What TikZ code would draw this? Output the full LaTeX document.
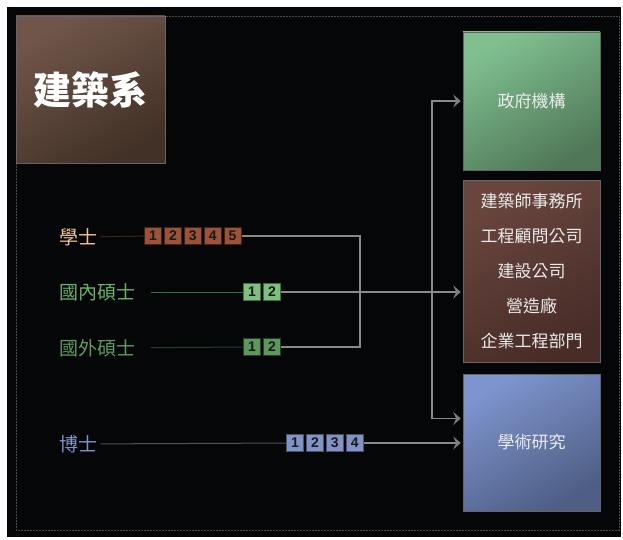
\documentclass[tikz,border=0pt]{standalone}
\usepackage{fontspec}
\newfontfamily\cjk{Noto Sans CJK TC}
\newfontfamily\digitfont{Liberation Sans}
\usetikzlibrary{positioning,arrows.meta}
\definecolor{bgblack}{HTML}{050608}
\definecolor{frame}{HTML}{4A4A4A}
\definecolor{link}{HTML}{8A8A8A}
\definecolor{bachtext}{HTML}{F5C392}
\definecolor{bachbox}{HTML}{9C5236}
\definecolor{bachline}{HTML}{3E2219}
\definecolor{mdtext}{HTML}{6BB06B}
\definecolor{mdbox}{HTML}{7DC07D}
\definecolor{mdline}{HTML}{3D6E3D}
\definecolor{mftext}{HTML}{5E9A5E}
\definecolor{mfbox}{HTML}{5C985C}
\definecolor{mfline}{HTML}{25402A}
\definecolor{phdtext}{HTML}{7E95C8}
\definecolor{phdbox}{HTML}{7F93C9}
\definecolor{phdline}{HTML}{4E525C}
\begin{document}
\begin{tikzpicture}[x=1pt, y=-1pt, node distance=1.8pt, thick,
  degree/.style = {font=\cjk\fontsize{19}{19}\selectfont},
  digit/.style = {draw, minimum width=17.5pt, minimum height=17pt, inner sep=0pt, line width=0.6pt, text=black!90, font=\digitfont\bfseries\fontsize{14}{14}\selectfont},
  target/.style = {draw=black!60, line width=0.6pt, minimum width=137pt, inner sep=0pt, text=white!92!black, font=\cjk\fontsize{17}{17}\selectfont, align=center},
  path/.style = {link, line width=1.2pt},
  chevron/.style = {path, shorten >=2pt, -{Stealth[length=7.5pt, width=13pt, inset=3pt, color=link!110]}}]
	\useasboundingbox (0,0) rectangle (623,540);
	\fill[bgblack] (7,7) rectangle (621,537);
	\draw[frame, line width=0.6pt, dash pattern=on 2pt off 1pt] (16,16) rectangle (619,530);
	% department
	\node[draw=black!60, line width=0.6pt, minimum width=149pt, minimum height=147pt, top color={rgb,255:red,112;green,86;blue,74}, bottom color={rgb,255:red,66;green,49;blue,38}, shading angle=30, text=white, font=\cjk\bfseries\fontsize{38}{38}\selectfont] (dept) at (90.5,89.5) {建築系};
	% degrees
	\node[degree, text=bachtext] (bach) at (78,237) {學士};
	\node[degree, text=mdtext] (mdom) at (97,292) {國內碩士};
	\node[degree, text=mftext] (mfor) at (97,348) {國外碩士};
	\node[degree, text=phdtext] (phd) at (78,444) {博士};
	% years
	\node[digit, fill=bachbox, draw=bachline] (b1) at (153,236) {1};
	\node[digit, fill=bachbox, draw=bachline] (b2) [right=of b1] {2};
	\node[digit, fill=bachbox, draw=bachline] (b3) [right=of b2] {3};
	\node[digit, fill=bachbox, draw=bachline] (b4) [right=of b3] {4};
	\node[digit, fill=bachbox, draw=bachline] (b5) [right=of b4] {5};
	\node[digit, fill=mdbox, draw=mdline] (md1) at (252,292) {1};
	\node[digit, fill=mdbox, draw=mdline] (md2) [right=of md1] {2};
	\node[digit, fill=mfbox, draw=mfline] (mf1) at (252,347) {1};
	\node[digit, fill=mfbox, draw=mfline] (mf2) [right=of mf1] {2};
	\node[digit, fill=phdbox, draw=phdline] (p1) at (295,443) {1};
	\node[digit, fill=phdbox, draw=phdline] (p2) [right=of p1] {2};
	\node[digit, fill=phdbox, draw=phdline] (p3) [right=of p2] {3};
	\node[digit, fill=phdbox, draw=phdline] (p4) [right=of p3] {4};
	% careers
	\node[target, minimum height=138pt, top color={rgb,255:red,128;green,192;blue,144}, bottom color={rgb,255:red,80;green,120;blue,88}, shading angle=30] (gov) at (531.5,101) {政府機構};
	\node[target, minimum height=182pt, top color={rgb,255:red,104;green,70;blue,62}, bottom color={rgb,255:red,72;green,44;blue,40}, shading angle=30, font=\cjk\fontsize{17}{35}\selectfont] (firm) at (531.5,271) {建築師事務所\\工程顧問公司\\建設公司\\營造廠\\企業工程部門};
	\node[target, minimum height=137pt, top color={rgb,255:red,126;green,148;blue,206}, bottom color={rgb,255:red,78;green,94;blue,132}, shading angle=30] (acad) at (531.5,442.5) {學術研究};
	\coordinate (j1) at (360,292);
	\coordinate (j2) at (432,292);
	% connections
	\draw[bachline, line width=1pt] (bach) -- (b1);
	\draw[mdline, line width=1pt, shorten <=12pt] (mdom) -- (md1);
	\draw[mfline, line width=1pt, shorten <=12pt] (mfor) -- (mf1);
	\draw[phdline, line width=1pt] (phd) -- (p1);
	\draw[path] (b5) -| (j1);
	\draw[path] (mf2) -| (j1);
	\draw[chevron] (md2) -- (md2 -| firm.west);
	\draw[chevron] (j2) |- (gov.west);
	\draw[chevron] (j2) |- ([yshift=24pt]acad.west);
	\draw[chevron] (p4) -- (p4 -| acad.west);
\end{tikzpicture}
\end{document}
